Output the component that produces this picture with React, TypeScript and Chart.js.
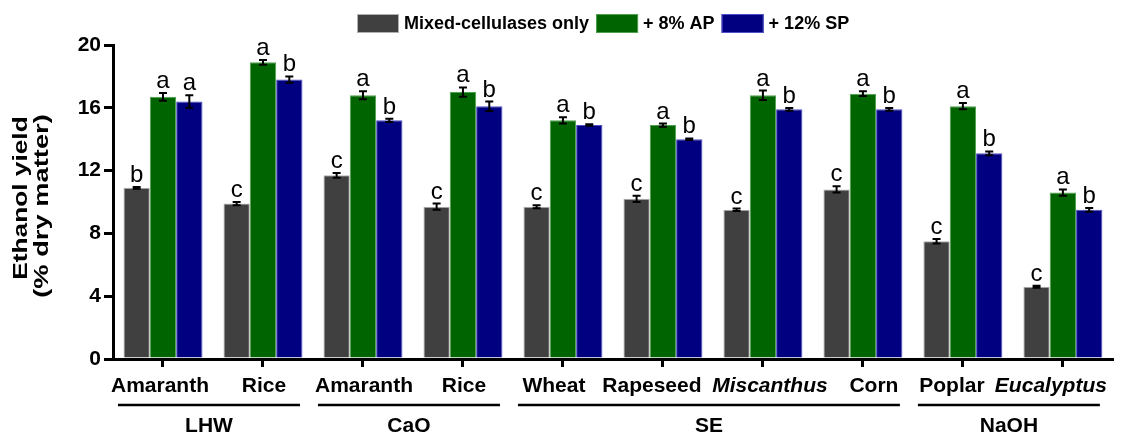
import React, { useEffect, useRef } from "react";
import { Chart, registerables } from "chart.js";

Chart.register(...registerables);

const categories = ["Amaranth", "Rice", "Amaranth", "Rice", "Wheat", "Rapeseed", "Miscanthus", "Corn", "Poplar", "Eucalyptus"];
const italicIdx = [6, 9];
const seriesNames = ["Mixed-cellulases only", "+ 8% AP", "+ 12% SP"];
const yTitleLines = ["Ethanol yield", "(% dry matter)"];
const mixed = [10.9, 9.9, 11.7, 9.7, 9.7, 10.2, 9.5, 10.8, 7.5, 4.6];
const ap = [16.7, 18.9, 16.8, 17.0, 15.2, 14.9, 16.8, 16.9, 16.1, 10.6];
const sp = [16.4, 17.8, 15.2, 16.1, 14.9, 14.0, 15.9, 15.9, 13.1, 9.5];
const mixedErr = [0.06, 0.1, 0.15, 0.2, 0.1, 0.2, 0.08, 0.2, 0.15, 0.06];
const apErr = [0.25, 0.15, 0.25, 0.3, 0.2, 0.1, 0.3, 0.15, 0.2, 0.2];
const spErr = [0.4, 0.2, 0.1, 0.3, 0.05, 0.05, 0.08, 0.08, 0.12, 0.12];
const mixedLetters = ["b", "c", "c", "c", "c", "c", "c", "c", "c", "c"];
const apLetters = ["a", "a", "a", "a", "a", "a", "a", "a", "a", "a"];
const spLetters = ["a", "b", "b", "b", "b", "b", "b", "b", "b", "b"];
const groupLabels = ["LHW", "CaO", "SE", "NaOH"];
const groupStart = [0, 2, 4, 8];
const groupEnd = [1, 3, 7, 9];
const yTicks = [0, 4, 8, 12, 16, 20];

// layout constants (not data)
const FONT = "'Liberation Sans', Arial, sans-serif";
const fills = ["#404040", "#006400", "#000080"];
const borders = ["#b0b0b0", "#4fa04f", "#5050c8"];
const labelNudge = [-3, 1, 1, 1, -9, -11, 7, 11, -11, -12];
const errs = [mixedErr, apErr, spErr];
const letters = [mixedLetters, apLetters, spLetters];

const annotPlugin = {
  id: "annot",
  beforeDraw(chart: any) {
    const x = chart.scales.x;
    const items = x.getLabelItems();
    items.forEach((it: any, i: number) => {
      if (!it._nudged) {
        it.options.translation[0] += labelNudge[i] || 0;
        it._nudged = true;
      }
    });
  },
  afterDatasetsDraw(chart: any) {
    const ctx = chart.ctx;
    const y = chart.scales.y;
    ctx.save();
    for (let d = 0; d < 3; d++) {
      const meta = chart.getDatasetMeta(d);
      const vals = chart.data.datasets[d].data as number[];
      meta.data.forEach((bar: any, i: number) => {
        const v = vals[i];
        const e = errs[d][i];
        const yt = y.getPixelForValue(v + e);
        const yb = y.getPixelForValue(v - e);
        ctx.strokeStyle = "#000";
        ctx.lineWidth = 2;
        ctx.beginPath();
        ctx.moveTo(bar.x, yt);
        ctx.lineTo(bar.x, yb);
        ctx.moveTo(bar.x - 4, yt);
        ctx.lineTo(bar.x + 4, yt);
        ctx.moveTo(bar.x - 4, yb);
        ctx.lineTo(bar.x + 4, yb);
        ctx.stroke();
        ctx.fillStyle = "#000";
        ctx.font = `24px ${FONT}`;
        ctx.textAlign = "center";
        ctx.textBaseline = "alphabetic";
        ctx.fillText(letters[d][i], bar.x, yt - 5);
      });
    }
    ctx.restore();
  },
  afterDraw(chart: any) {
    const ctx = chart.ctx;
    const x = chart.scales.x;
    const y = chart.scales.y;
    const cw = x.getPixelForValue(1) - x.getPixelForValue(0);
    ctx.save();
    // y-axis title (two lines, rotated, slightly stretched along its length)
    const cy = (y.top + y.bottom) / 2 - 4;
    ctx.fillStyle = "#000";
    ctx.font = `bold 21px ${FONT}`;
    ctx.textAlign = "center";
    ctx.textBaseline = "middle";
    [21, 42].forEach((cx, k) => {
      ctx.save();
      ctx.translate(cx, cy + k * 8);
      ctx.rotate(-Math.PI / 2);
      ctx.scale(1.25 + k * 0.05, 1);
      ctx.fillText(yTitleLines[k], 0, 0);
      ctx.restore();
    });
    // group lines and labels
    for (let g = 0; g < groupLabels.length; g++) {
      const x0 = x.getPixelForValue(groupStart[g]) - 0.45 * cw;
      const x1 = x.getPixelForValue(groupEnd[g]) + 0.37 * cw;
      ctx.strokeStyle = "#000";
      ctx.lineWidth = 2.5;
      ctx.beginPath();
      ctx.moveTo(x0, 405);
      ctx.lineTo(x1, 405);
      ctx.stroke();
      ctx.fillStyle = "#000";
      ctx.font = `bold 21px ${FONT}`;
      ctx.textAlign = "center";
      ctx.textBaseline = "alphabetic";
      ctx.fillText(groupLabels[g], (x0 + x1) / 2, 432);
    }
    // legend
    ctx.font = `bold 18px ${FONT}`;
    ctx.textAlign = "left";
    ctx.textBaseline = "middle";
    let lx = 357;
    for (let d = 0; d < 3; d++) {
      ctx.fillStyle = fills[d];
      ctx.fillRect(lx, 14, 42, 19);
      ctx.strokeStyle = borders[d];
      ctx.lineWidth = 1;
      ctx.strokeRect(lx + 0.5, 14.5, 41, 18);
      ctx.fillStyle = "#000";
      ctx.fillText(seriesNames[d], lx + 47, 24);
      lx += 47 + ctx.measureText(seriesNames[d]).width + 7;
    }
    ctx.restore();
  },
};

export default function App() {
  const ref = useRef<HTMLCanvasElement>(null);
  useEffect(() => {
    const chart = new Chart(ref.current!, {
      type: "bar",
      data: {
        labels: categories,
        datasets: [mixed, ap, sp].map((arr, d) => ({
          label: seriesNames[d],
          data: arr,
          backgroundColor: fills[d],
          borderColor: borders[d],
          borderWidth: 1,
          barPercentage: 1,
          categoryPercentage: 0.79,
        })),
      },
      options: {
        animation: false,
        responsive: false,
        devicePixelRatio: 1,
        layout: { padding: { top: 45, right: 2, left: 0, bottom: 0 } },
        plugins: { legend: { display: false }, tooltip: { enabled: false } },
        scales: {
          x: {
            afterFit: (s: any) => { s.height = 76; },
            border: { color: "#000", width: 3 },
            grid: { offset: false, drawOnChartArea: false, color: "#000", lineWidth: 3, tickLength: 8 },
            ticks: {
              color: "#000",
              padding: 7,
              maxRotation: 0,
              autoSkip: false,
              font: (c: any) => ({ family: FONT, size: 21, weight: "bold", style: italicIdx.includes(c.index) ? "italic" : "normal" }),
            },
          },
          y: {
            min: 0,
            max: 20,
            afterFit: (s: any) => { s.width = 113; },
            afterBuildTicks: (s: any) => { s.ticks = yTicks.map((v) => ({ value: v })); },
            border: { color: "#000", width: 3 },
            grid: { drawOnChartArea: false, color: "#000", lineWidth: 3, tickLength: 9 },
            ticks: { color: "#000", padding: 3, font: { family: FONT, size: 21, weight: "bold" } },
            title: { display: false },
          },
        },
      },
      plugins: [annotPlugin],
    });
    return () => chart.destroy();
  }, []);
  return (
    <div style={{ position: "absolute", left: 0, top: 0, width: 1126, height: 435, background: "#fff" }}>
      <canvas ref={ref} width={1126} height={435} style={{ display: "block" }} />
    </div>
  );
}
